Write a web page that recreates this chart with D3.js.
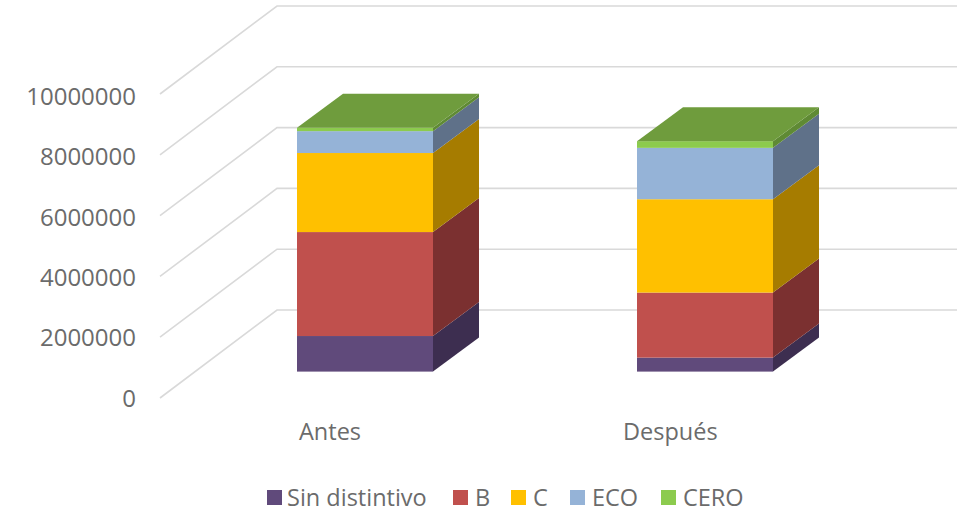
<!DOCTYPE html>
<html>
<head>
<meta charset="utf-8">
<script src="https://cdn.jsdelivr.net/npm/d3@7"></script>
<style>
  html, body { margin: 0; padding: 0; background: #fff; }
  text { font-family: "Open Sans", sans-serif; fill: #6b6b6b; }
</style>
</head>
<body>
<script>
// Registered vehicles by environmental label, before and after the measure
const categories = ["Antes", "Después"];
const seriesNames = ["Sin distintivo", "B", "C", "ECO", "CERO"];
const sinDistintivo = [1170000, 460000];
const b = [3420000, 2140000];
const c = [2600000, 3070000];
const eco = [720000, 1690000];
const cero = [110000, 220000];
const axisTicks = [0, 2000000, 4000000, 6000000, 8000000, 10000000];

const faceColors = ["#604A7B", "#C0504D", "#FFC000", "#95B3D7", "#8CCB4E"];
const sideColors = ["#3D2E50", "#7B3030", "#A67C00", "#5F7189", "#5F8A34"];
const topColor = "#6F9C3D";
const gridColor = "#d9d9d9";

const width = 964, height = 512;
const svg = d3.select("body").append("svg")
  .attr("width", width).attr("height", height)
  .style("display", "block");

// The oblique projection: depth shifts a point right and up
const wallDepth = { dx: 117, dy: -88 };
const barDepth = { dx: 46, dy: -34 };

// Same value scale on the wall edge and the column front, plus the label column
const yFront = d3.scaleLinear().domain([0, 10000000]).range([398, 94]);
const yBar = d3.scaleLinear().domain([0, 10000000]).range([371.6, 67.6]);
const yLabel = d3.scaleLinear().domain([0, 10000000]).range([398, 96.5]);
const x = d3.scaleBand().domain(categories).range([195, 875]);
const barWidth = 136;
const barX = cat => x(cat) + (x.bandwidth() - barWidth) / 2;

// Gridlines: along the side wall, then across the back wall
const gridLine = d3.line();
svg.append("g").selectAll("path").data(axisTicks).join("path")
  .attr("d", t => gridLine([
    [160, yFront(t)],
    [160 + wallDepth.dx, yFront(t) + wallDepth.dy],
    [957, yFront(t) + wallDepth.dy]
  ]))
  .attr("fill", "none")
  .attr("stroke", gridColor)
  .attr("stroke-width", 1.6);

// Value axis labels
svg.append("g").selectAll("text").data(axisTicks).join("text")
  .attr("x", 136)
  .attr("y", t => yLabel(t) + 8.5)
  .attr("text-anchor", "end")
  .style("font-size", "24px")
  .text(t => d3.format("d")(t));

// Stack the categories
const rows = categories.map((cat, i) => ({
  cat,
  "Sin distintivo": sinDistintivo[i],
  "B": b[i],
  "C": c[i],
  "ECO": eco[i],
  "CERO": cero[i]
}));
const stacked = d3.stack().keys(seriesNames)(rows);

const poly = pts => d3.line()(pts) + "Z";
const bars = svg.append("g");

stacked.forEach((layer, s) => {
  layer.forEach(seg => {
    const x0 = barX(seg.data.cat);
    const x1 = x0 + barWidth;
    const y0 = yBar(seg[0]);
    const y1 = yBar(seg[1]);
    // right-hand side face
    bars.append("path")
      .attr("d", poly([[x1, y0], [x1 + barDepth.dx, y0 + barDepth.dy],
                       [x1 + barDepth.dx, y1 + barDepth.dy], [x1, y1]]))
      .attr("fill", sideColors[s]);
    // front face
    bars.append("rect")
      .attr("x", x0).attr("y", y1)
      .attr("width", barWidth).attr("height", y0 - y1)
      .attr("fill", faceColors[s]);
    // lid on the uppermost segment
    if (s === stacked.length - 1) {
      bars.append("path")
        .attr("d", poly([[x0, y1], [x0 + barDepth.dx, y1 + barDepth.dy],
                         [x1 + barDepth.dx, y1 + barDepth.dy], [x1, y1]]))
        .attr("fill", topColor);
    }
  });
});

// Category labels
const catLabelX = { "Antes": 299, "Después": 623 };
svg.append("g").selectAll("text").data(categories).join("text")
  .attr("x", d => catLabelX[d])
  .attr("y", 440)
  .style("font-size", "23.5px")
  .text(d => d);

// Legend
const legendSwatchX = [267, 453, 511, 570, 661];
const legend = svg.append("g").selectAll("g").data(seriesNames).join("g")
  .attr("transform", (d, i) => `translate(${legendSwatchX[i]},490)`);
legend.append("rect")
  .attr("width", 15).attr("height", 15)
  .attr("fill", (d, i) => faceColors[i]);
legend.append("text")
  .attr("x", (d, i) => i === 0 ? 20 : 22)
  .attr("y", 16)
  .style("font-size", "23.5px")
  .text(d => d);
</script>
</body>
</html>
